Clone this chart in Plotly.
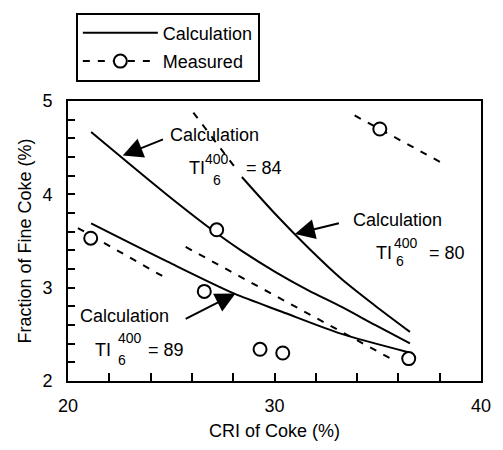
import plotly.graph_objects as go

# ---- data ----
# Calculation curves (CRI %, fine coke %)
calc84_x = [21.12, 24.82, 27.23, 28.43, 30.07, 31.66, 33.25, 34.89, 36.56]
calc84_y = [4.667, 3.990, 3.577, 3.392, 3.165, 2.969, 2.794, 2.598, 2.402]
calc80_x = [28.42, 30.06, 31.66, 33.25, 34.89, 36.56]
calc80_y = [4.186, 3.784, 3.423, 3.093, 2.804, 2.526]
calc89_x = [21.12, 24.82, 28.03, 30.36, 33.25, 36.48]
calc89_y = [3.688, 3.278, 2.938, 2.742, 2.505, 2.309]
# dashed extension above TI=80 curve
ext80_x = [26.07, 28.19]
ext80_y = [4.876, 4.258]

# Measured points
meas_x = [21.1, 26.6, 27.2, 29.3, 30.4, 36.5, 35.1]
meas_y = [3.53, 2.96, 3.62, 2.34, 2.30, 2.24, 4.70]
# Measured trend lines (segments)
trend1_x = [20.48, 24.82]
trend1_y = [3.639, 3.093]
trend2_x = [25.70, 35.68]
trend2_y = [3.436, 2.234]
trend3_x = [33.88, 38.25]
trend3_y = [4.845, 4.320]

x_ticks = [20, 22, 24, 26, 28, 30, 32, 34, 36, 38, 40]
x_labels = ["20", "", "", "", "", "30", "", "", "", "", "40"]
y_ticks = [round(2 + 0.2 * i, 1) for i in range(16)]
y_labels = [str(int(v)) if abs(v - round(v)) < 1e-9 else "" for v in y_ticks]

FONT = "Liberation Sans, Arial, sans-serif"
FS = 18
LW = 2
DASH = "7px,8px"

fig = go.Figure()

for i, (px, py) in enumerate([(calc84_x, calc84_y), (calc80_x, calc80_y), (calc89_x, calc89_y)]):
    fig.add_trace(go.Scatter(x=px, y=py, mode="lines", name="Calculation",
                             legendgroup="calc", showlegend=(i == 0),
                             line=dict(color="black", width=LW, shape="spline", smoothing=0.8)))
fig.add_trace(go.Scatter(x=ext80_x, y=ext80_y, mode="lines", showlegend=False,
                         line=dict(color="black", width=LW, dash=DASH)))
for px, py in [(trend1_x, trend1_y), (trend2_x, trend2_y), (trend3_x, trend3_y)]:
    fig.add_trace(go.Scatter(x=px, y=py, mode="lines", showlegend=False,
                             line=dict(color="black", width=LW, dash=DASH)))
fig.add_trace(go.Scatter(x=meas_x, y=meas_y, mode="markers", showlegend=False,
                         marker=dict(symbol="circle", size=13, color="white",
                                     line=dict(color="black", width=2))))
# legend entry for measured
fig.add_trace(go.Scatter(x=[None], y=[None], mode="lines+markers", name="Measured",
                         legendgroup="meas",
                         line=dict(color="black", width=LW, dash=DASH),
                         marker=dict(symbol="circle", size=13, color="white",
                                     line=dict(color="black", width=2))))

ann = []
def txt(x, y, s, size=FS):
    ann.append(dict(x=x, y=y, xref="x", yref="y", text=s, showarrow=False,
                    xanchor="left", yanchor="middle",
                    font=dict(family=FONT, size=size, color="black")))

def label(cx_, cy_, tix, tiy, supx, supy, subx, suby, eqx, eqtxt):
    txt(cx_, cy_, "Calculation")
    txt(tix, tiy, "TI")
    txt(supx, supy, "400", 14)
    txt(subx, suby, "6", 14)
    txt(eqx, tiy, eqtxt)

def X(px): return 20 + (px - 68) / 20.75
def Y(py): return 5 - (py - 100) / 97

label(X(168), Y(135.5), X(188), Y(170), X(204), Y(160), X(212), Y(182), X(245), "= 84")
label(X(352), Y(223.5), X(375), Y(257.5), X(394), Y(248), X(396), Y(266), X(429), "= 80")
label(X(78), Y(323.5), X(93), Y(358.5), X(116), Y(346), X(116), Y(369), X(146), "= 89")

def arrow(tipx, tipy, tailx, taily):
    ann.append(dict(x=tipx, y=tipy, ax=tailx, ay=taily, xref="x", yref="y",
                    axref="x", ayref="y", text="", showarrow=True,
                    arrowhead=2, arrowsize=2.0, arrowwidth=2, arrowcolor="black",
                    standoff=0, startstandoff=0))

arrow(X(123), Y(156.7), X(165), Y(139.3))
arrow(X(296), Y(238.3), X(341.7), Y(226.7))
arrow(X(236.3), Y(300), X(184.7), Y(327.3))

fig.update_layout(
    width=503, height=450, autosize=False,
    margin=dict(l=68, r=20, t=100, b=59),
    plot_bgcolor="white", paper_bgcolor="white",
    font=dict(family=FONT, size=FS, color="black"),
    annotations=ann,
    legend=dict(x=0.019, y=1.316, xanchor="left", yanchor="top",
                bordercolor="black", borderwidth=2, bgcolor="white",
                font=dict(family=FONT, size=FS, color="black"),
                itemwidth=75, tracegroupgap=2, traceorder="grouped"),
    xaxis=dict(range=[20, 40], tickvals=x_ticks, ticktext=x_labels,
               ticks="inside", ticklen=8, tickwidth=1.5, tickcolor="black",
               showline=True, linecolor="black", linewidth=2, mirror=True,
               showgrid=False, zeroline=False, ticklabelstandoff=7,
               title=dict(text="CRI of Coke (%)", standoff=10,
                          font=dict(family=FONT, size=FS))),
    yaxis=dict(range=[2, 5], tickvals=y_ticks, ticktext=y_labels,
               ticks="inside", ticklen=7, tickwidth=1.5, tickcolor="black",
               showline=True, linecolor="black", linewidth=2, mirror=True,
               showgrid=False, zeroline=False, ticklabelstandoff=10,
               title=dict(text="Fraction of Fine Coke (%)", standoff=6,
                          font=dict(family=FONT, size=FS))),
)

fig.write_html("out.html")
